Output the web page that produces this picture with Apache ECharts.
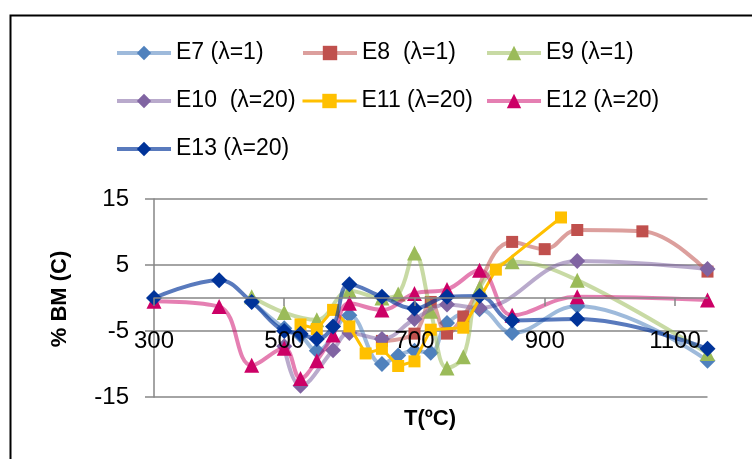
<!DOCTYPE html>
<html>
<head>
<meta charset="utf-8">
<script src="https://cdn.jsdelivr.net/npm/echarts@6/dist/echarts.min.js"></script>
<style>html,body{margin:0;padding:0;background:#fff}#c{width:752px;height:459px}</style>
</head>
<body>
<div id="c"></div>
<script>
// ---- data (T in ºC, %BM (C)) ----
const seriesNames = ['E7 (λ=1)', 'E8  (λ=1)', 'E9 (λ=1)', 'E10  (λ=20)', 'E11 (λ=20)', 'E12 (λ=20)', 'E13 (λ=20)'];
const e7 = [[450,-0.5],[500,-4.6],[525,-5.7],[550,-8.0],[600,-2.6],[650,-10.0],[675,-8.7],[700,-8.0],[725,-8.3],[750,-3.8],[800,-1.7],[850,-5.3],[950,-1.2],[1150,-9.5]];
const e8 = [[650,-6.5],[700,-5.4],[725,-0.6],[750,-5.4],[775,-2.8],[850,8.5],[900,7.4],[950,10.3],[1050,10.1],[1150,4.0]];
const e9 = [[450,0.2],[500,-2.2],[550,-3.3],[600,1.1],[650,0],[675,0.6],[700,6.8],[725,-2.0],[750,-10.6],[775,-8.9],[800,1.5],[850,5.5],[950,2.7],[1150,-8.4]];
const e10 = [[500,-7.3],[525,-13.3],[575,-7.9],[600,-5.3],[650,-6.2],[700,-3.2],[750,-1.0],[800,-1.5],[950,5.6],[1150,4.4]];
const e11 = [[525,-4.0],[550,-4.7],[575,-1.8],[600,-4.3],[625,-8.4],[650,-7.7],[675,-10.3],[700,-9.6],[725,-4.8],[775,-4.5],[825,4.3],[925,12.2]];
const e12 = [[300,-0.5],[400,-1.3],[450,-10.2],[500,-7.6],[525,-12.2],[550,-9.5],[575,-5.6],[600,-0.8],[650,-1.8],[700,0.7],[750,1.3],[800,4.2],[850,-2.6],[950,0.2],[1150,-0.3]];
const e13 = [[300,0],[400,2.7],[450,-0.6],[500,-5.0],[525,-5.4],[550,-6.2],[575,-4.3],[600,2.1],[650,0.2],[700,-1.6],[750,0.2],[800,0.3],[850,-3.4],[950,-3.2],[1150,-7.7]];
const xTicks = [300, 500, 700, 900, 1100];
const yTicks = [-15, -5, 5, 15];
const xName = 'T(ºC)';
const yName = '% BM (C)';

// ---- styles ----
const dataSets = [e7, e8, e9, e10, e11, e12, e13];
const markerColors = ['#4F81BD', '#C0504D', '#9BBB59', '#8064A2', '#FFC000', '#CC0066', '#003399'];
const lineColors = ['rgba(79,129,189,0.55)', 'rgba(192,80,77,0.55)', 'rgba(155,187,89,0.55)', 'rgba(128,100,162,0.55)', '#FFC000', 'rgba(204,0,102,0.5)', 'rgba(0,51,153,0.65)'];
const symbols = ['diamond', 'rect', 'triangle', 'diamond', 'rect', 'triangle', 'diamond'];
const symbolSizes = [[16,16], 12, 15, [16,16], 12, 15, [16,16]];
const smoothFlags = [true, true, true, true, false, true, true];
const lineWidths = [4, 4, 4, 4, 3, 4, 4];
const legendPos = [[115,40],[301,40],[485,40],[115,88],[301,88],[485,88],[115,136]];
const FONT = '"Liberation Sans", Arial, sans-serif';

const series = dataSets.map((d, i) => ({
  name: seriesNames[i],
  type: 'line',
  data: d,
  smooth: smoothFlags[i] ? 0.4 : false,
  symbol: symbols[i],
  symbolSize: symbolSizes[i],
  itemStyle: { color: markerColors[i], opacity: 1 },
  lineStyle: { color: lineColors[i], width: lineWidths[i] },
  z: 2 + i
}));

const legends = seriesNames.map((n, i) => ({
  data: [n],
  left: legendPos[i][0],
  top: legendPos[i][1],
  padding: 0,
  itemWidth: 54,
  itemHeight: 18,
  selectedMode: false,
  lineStyle: { width: lineWidths[i], color: lineColors[i] },
  textStyle: { fontSize: 23, fontFamily: FONT, color: '#000', lineHeight: 26 }
}));

const chart = echarts.init(document.getElementById('c'), null, { renderer: 'canvas' });
chart.setOption({
  animation: false,
  backgroundColor: '#fff',
  legend: legends,
  grid: { left: 154, right: 44.5, top: 199, bottom: 62, outerBoundsMode: 'none' },
  xAxis: {
    type: 'value', min: xTicks[0], max: 1150, interval: 200,
    position: 'bottom', offset: -99, z: 20,
    axisLine: { show: true, onZero: false, lineStyle: { color: '#868686', width: 1.5 } },
    axisTick: { show: true, length: 8, customValues: xTicks, lineStyle: { color: '#868686', width: 1.5 } },
    axisLabel: { customValues: xTicks, margin: 31, fontSize: 24, fontFamily: FONT, color: '#000', formatter: v => String(v) },
    splitLine: { show: false }
  },
  yAxis: {
    type: 'value', min: yTicks[0], max: yTicks[yTicks.length - 1], interval: 10,
    axisLine: { show: true, lineStyle: { color: '#868686', width: 1.5 } },
    axisTick: { show: true, length: 9, lineStyle: { color: '#868686', width: 1.5 } },
    axisLabel: { margin: 25, fontSize: 24, fontFamily: FONT, color: '#000' },
    splitLine: { show: true, lineStyle: { color: '#868686', width: 1.5 } }
  },
  graphic: [
    { type: 'rect', left: 8, top: 13, shape: { width: 800, height: 500 }, style: { fill: null, stroke: '#000', lineWidth: 2 }, silent: true, z: 0 },
    { type: 'text', x: 60, y: 299, rotation: Math.PI / 2, style: { text: yName, font: 'bold 22px ' + FONT, fill: '#000', textAlign: 'center', textVerticalAlign: 'middle' } },
    { type: 'text', x: 430, y: 419, style: { text: xName, font: 'bold 22px ' + FONT, fill: '#000', textAlign: 'center', textVerticalAlign: 'middle' } }
  ],
  series: series
});
</script>
</body>
</html>
